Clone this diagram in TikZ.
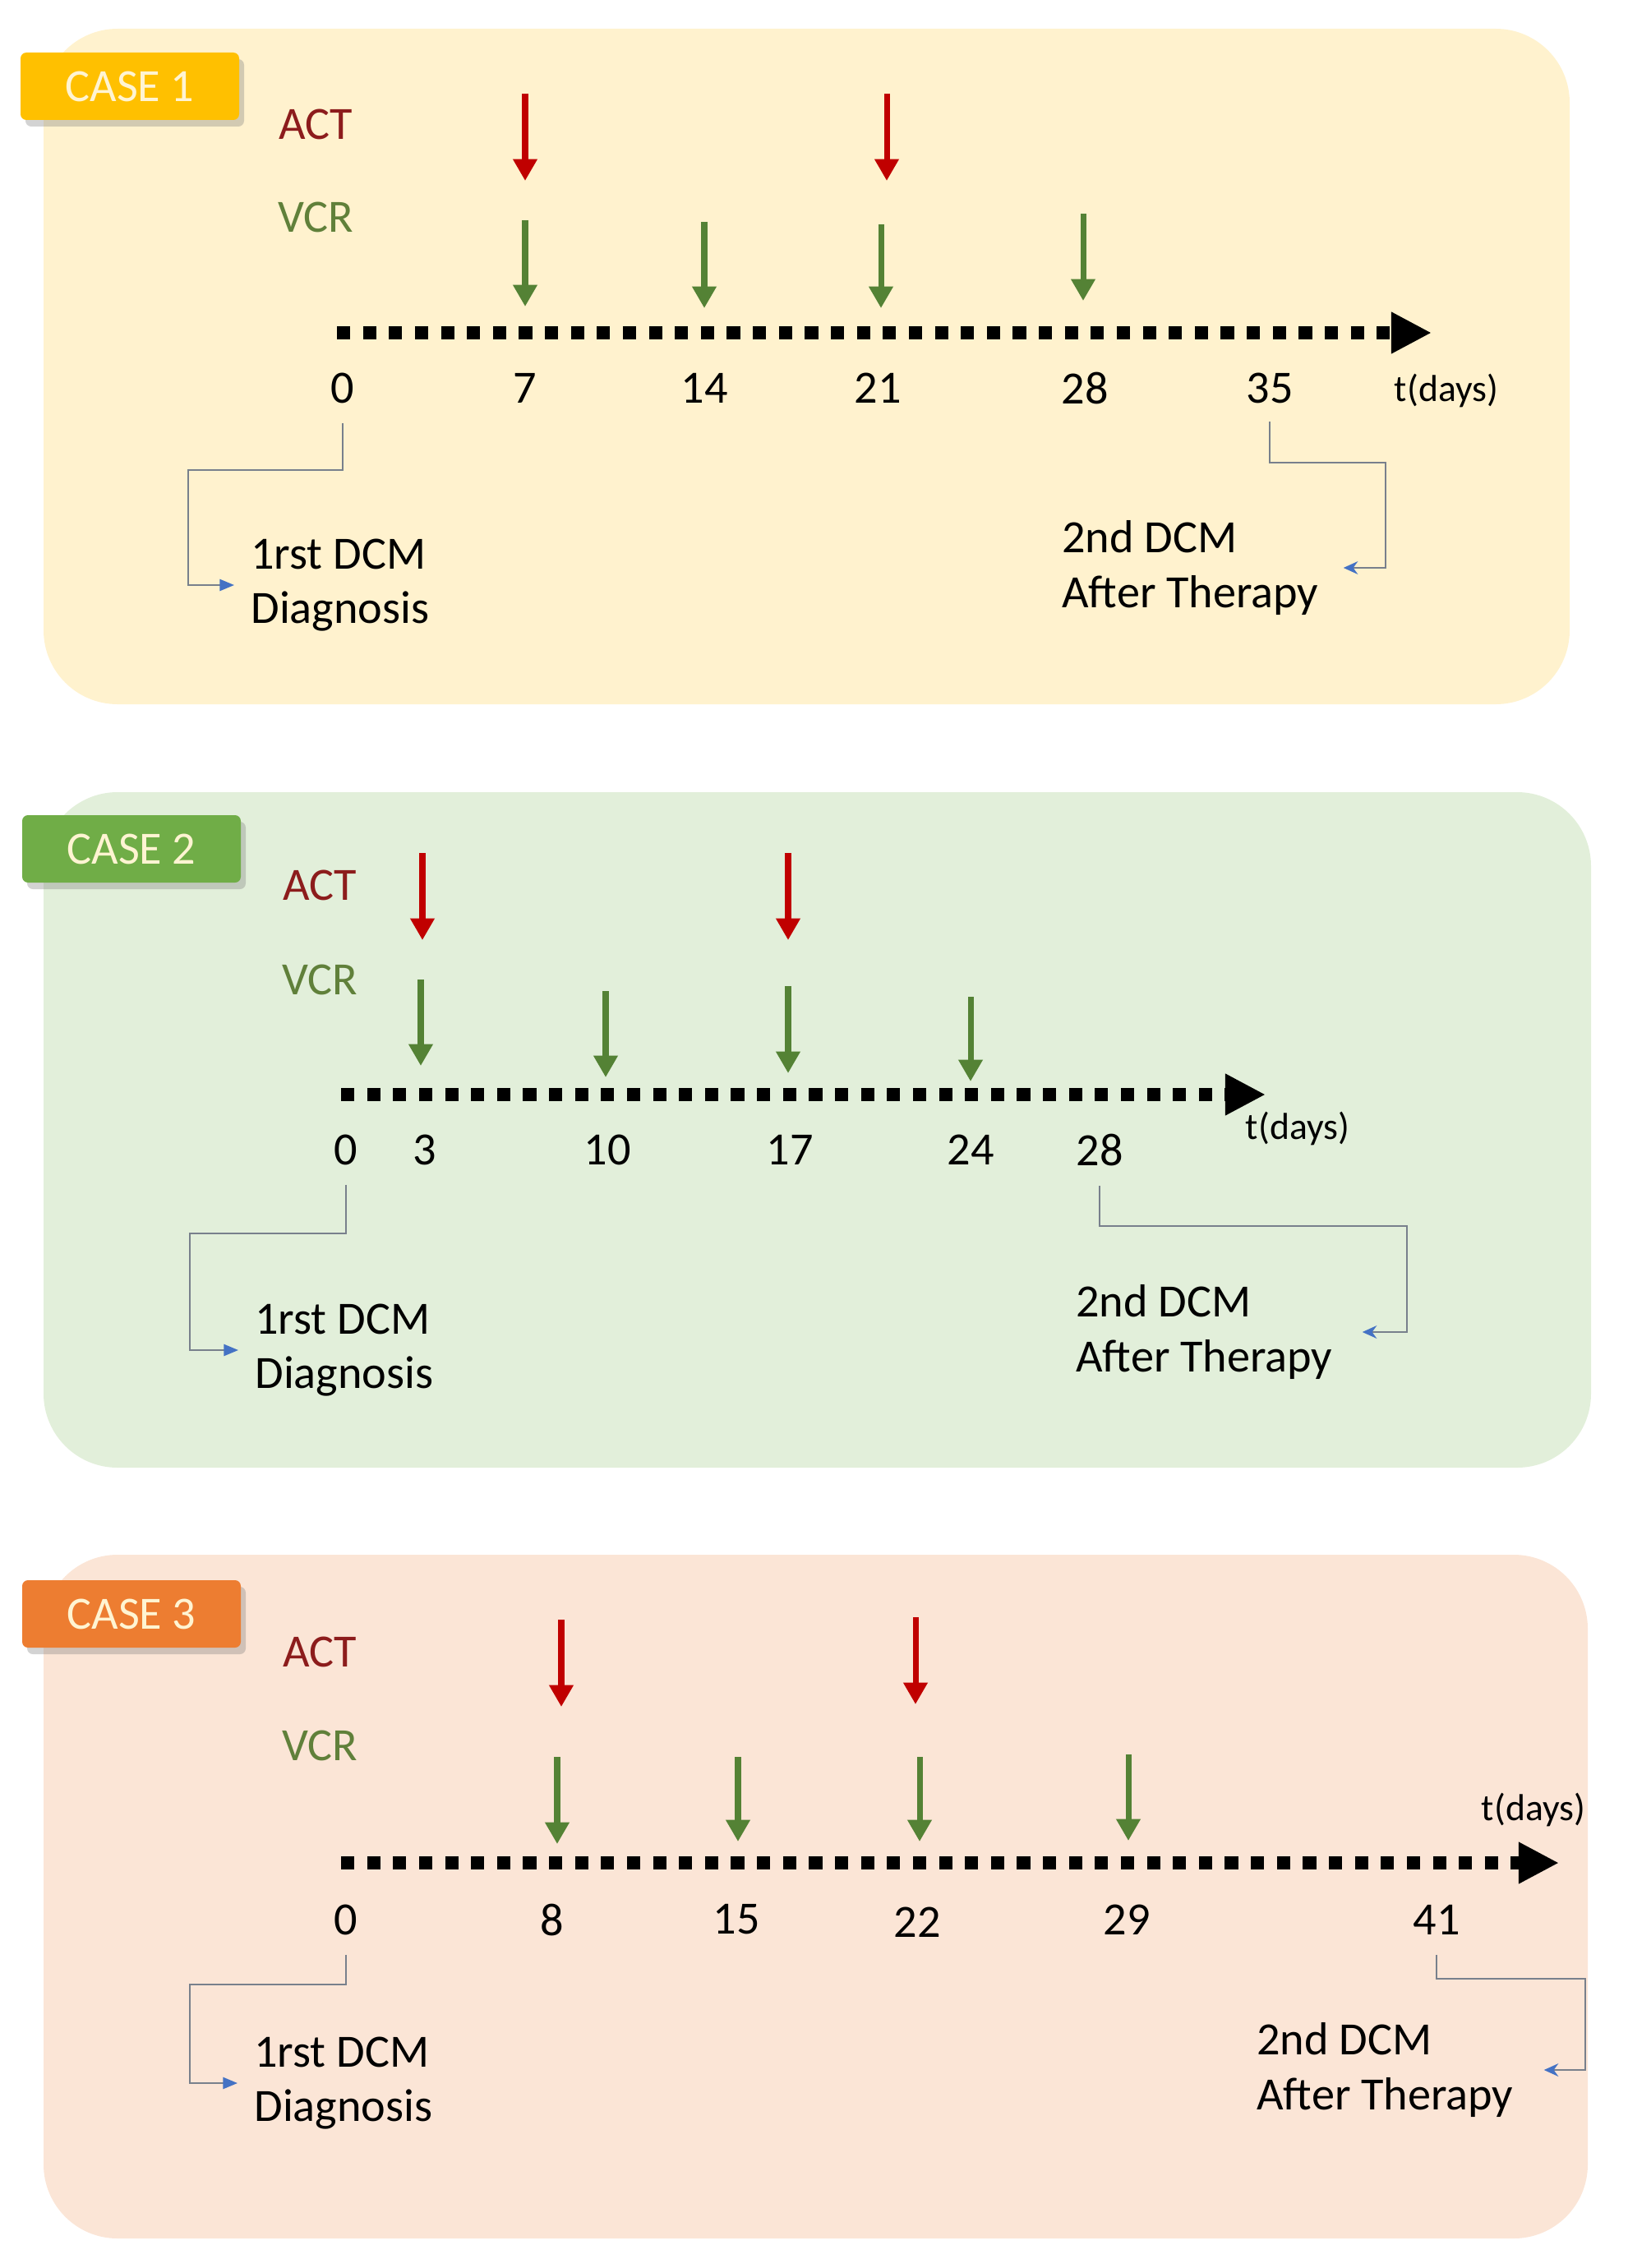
\documentclass[tikz,border=0pt]{standalone}
\usepackage{fontspec}
\setmainfont{Carlito}
\usepackage{xcolor}
\definecolor{case1_bg}{RGB}{255,242,206}
\definecolor{case2_bg}{RGB}{226,239,218}
\definecolor{case3_bg}{RGB}{251,229,214}
\definecolor{case1_tab}{RGB}{255,192,0}
\definecolor{case2_tab}{RGB}{112,173,71}
\definecolor{case3_tab}{RGB}{237,125,49}
\definecolor{tab_text}{RGB}{255,244,210}
\definecolor{act_text}{RGB}{140,28,28}
\definecolor{vcr_text}{RGB}{96,128,58}
\definecolor{act_red}{RGB}{192,0,0}
\definecolor{vcr_green}{RGB}{84,130,53}
\definecolor{link_gray}{RGB}{120,128,140}
\definecolor{link_blue}{RGB}{68,114,196}
\usepackage{tikz}
\usetikzlibrary{arrows.meta,shadows}

\tikzset{
  panel/.style={rounded corners=0.9cm},
  casetab/.style={minimum width=2.66cm, minimum height=0.82cm, rounded corners=2pt,
    text=tab_text, font=\fontsize{16}{19}\selectfont,
    drop shadow={shadow xshift=0.6mm, shadow yshift=-0.8mm, opacity=0.35}},
  drug/.style={font=\fontsize{16}{19}\selectfont},
  daylabel/.style={font=\fontsize{16}{19}\selectfont},
  dayunit/.style={font=\fontsize{13}{15}\selectfont},
  dcm/.style={align=left, anchor=west, font=\fontsize{16}{19}\selectfont},
  actarrow/.style={draw=act_red, line width=2pt, -{Triangle[length=7.5pt,width=8pt]}},
  vcrarrow/.style={draw=vcr_green, line width=2pt, -{Triangle[length=7.5pt,width=8pt]}},
  timeaxis/.style={line width=4.6pt, dash pattern=on 4.6pt off 4.4pt,
    -{Triangle[length=14pt,width=13.5pt]}},
  link/.style={draw=link_gray, line width=0.6pt},
  linkin/.style={link, -{Triangle[length=5pt,width=4pt,color=link_blue]}},
  linkout/.style={link, -{Stealth[length=5pt,width=4.5pt,color=link_blue]}}
}

\begin{document}
\begin{tikzpicture}
\useasboundingbox (0,0) rectangle (19.8,-27.6);

% CASE 1
\fill[case1_bg, panel] (0.53,-0.35) rectangle (19.10,-8.57);
\node[casetab, fill=case1_tab] (c1tab) at (1.58,-1.05) {CASE 1};
\node[drug, text=act_text] (c1act) at (3.84,-1.51) {ACT};
\node[drug, text=vcr_text] (c1vcr) at (3.84,-2.64) {VCR};

\draw[actarrow] (6.39,-1.14) -- (6.39,-2.20);
\draw[actarrow] (10.79,-1.14) -- (10.79,-2.20);
\draw[vcrarrow] (6.39,-2.68) -- (6.39,-3.73);
\draw[vcrarrow] (8.57,-2.70) -- (8.57,-3.75);
\draw[vcrarrow] (10.72,-2.73) -- (10.72,-3.75);
\draw[vcrarrow] (13.18,-2.60) -- (13.18,-3.66);

\draw[timeaxis] (4.10,-4.05) -- (17.42,-4.05);
\node[daylabel] (c1d0) at (4.17,-4.72) {0};
\node[daylabel] (c1d7) at (6.39,-4.72) {7};
\node[daylabel] (c1d14) at (8.57,-4.72) {14};
\node[daylabel] (c1d21) at (10.68,-4.72) {21};
\node[daylabel] (c1d28) at (13.20,-4.72) {28};
\node[daylabel] (c1d35) at (15.45,-4.72) {35};
\node[dayunit] (c1unit) at (17.60,-4.75) {t(days)};

\node[dcm] (c1first) at (2.93,-7.12) {1rst DCM\\Diagnosis};
\node[dcm] (c1second) at (12.80,-6.91) {2nd DCM\\After Therapy};
\coordinate (c1k1) at (2.29,-5.72);
\coordinate (c1k2) at (16.86,-5.63);
\draw[linkin, shorten >=0.8mm] ([yshift=-1.2mm]c1d0.south) |- (c1k1) |- (c1first);
\draw[linkout, shorten >=1.8mm] ([yshift=-1.0mm]c1d35.south) |- (c1k2) |- (c1second);

% CASE 2
\fill[case2_bg, panel] (0.53,-9.64) rectangle (19.36,-17.86);
\node[casetab, fill=case2_tab] (c2tab) at (1.60,-10.33) {CASE 2};
\node[drug, text=act_text] (c2act) at (3.89,-10.77) {ACT};
\node[drug, text=vcr_text] (c2vcr) at (3.89,-11.92) {VCR};

\draw[actarrow] (5.14,-10.38) -- (5.14,-11.44);
\draw[actarrow] (9.59,-10.38) -- (9.59,-11.44);
\draw[vcrarrow] (5.12,-11.92) -- (5.12,-12.97);
\draw[vcrarrow] (7.37,-12.06) -- (7.37,-13.11);
\draw[vcrarrow] (9.59,-12.00) -- (9.59,-13.06);
\draw[vcrarrow] (11.81,-12.13) -- (11.81,-13.16);

\draw[timeaxis] (4.15,-13.32) -- (15.40,-13.32);
\node[daylabel] (c2d0) at (4.21,-13.99) {0};
\node[daylabel] (c2d3) at (5.17,-13.99) {3};
\node[daylabel] (c2d10) at (7.39,-13.99) {10};
\node[daylabel] (c2d17) at (9.61,-13.99) {17};
\node[daylabel] (c2d24) at (11.81,-13.99) {24};
\node[daylabel] (c2d28) at (13.38,-13.99) {28};
\node[dayunit] (c2unit) at (15.79,-13.73) {t(days)};

\node[dcm] (c2first) at (2.98,-16.43) {1rst DCM\\Diagnosis};
\node[dcm] (c2second) at (12.97,-16.21) {2nd DCM\\After Therapy};
\coordinate (c2k1) at (2.31,-15.01);
\coordinate (c2k2) at (17.12,-14.92);
\draw[linkin, shorten >=0.8mm] ([yshift=-1.2mm]c2d0.south) |- (c2k1) |- (c2first);
\draw[linkout, shorten >=2.4mm] ([yshift=-1.2mm]c2d28.south) |- (c2k2) |- (c2second);

% CASE 3
\fill[case3_bg, panel] (0.53,-18.92) rectangle (19.32,-27.24);
\node[casetab, fill=case3_tab] (c3tab) at (1.60,-19.64) {CASE 3};
\node[drug, text=act_text] (c3act) at (3.89,-20.10) {ACT};
\node[drug, text=vcr_text] (c3vcr) at (3.89,-21.24) {VCR};

\draw[actarrow] (6.83,-19.71) -- (6.83,-20.77);
\draw[actarrow] (11.14,-19.68) -- (11.14,-20.74);
\draw[vcrarrow] (6.78,-21.38) -- (6.78,-22.44);
\draw[vcrarrow] (8.98,-21.38) -- (8.98,-22.41);
\draw[vcrarrow] (11.19,-21.38) -- (11.19,-22.41);
\draw[vcrarrow] (13.73,-21.35) -- (13.73,-22.40);

\draw[timeaxis] (4.15,-22.67) -- (18.97,-22.67);
\node[daylabel] (c3d0) at (4.21,-23.36) {0};
\node[daylabel] (c3d8) at (6.72,-23.36) {8};
\node[daylabel] (c3d15) at (8.96,-23.36) {15};
\node[daylabel] (c3d22) at (11.16,-23.39) {22};
\node[daylabel] (c3d29) at (13.71,-23.36) {29};
\node[daylabel] (c3d41) at (17.48,-23.36) {41};
\node[dayunit] (c3unit) at (18.66,-22.02) {t(days)};

\node[dcm] (c3first) at (2.97,-25.35) {1rst DCM\\Diagnosis};
\node[dcm] (c3second) at (15.17,-25.19) {2nd DCM\\After Therapy};
\coordinate (c3k1) at (2.31,-24.15);
\coordinate (c3k2) at (19.29,-24.08);
\draw[linkin, shorten >=0.8mm] ([yshift=-1.2mm]c3d0.south) |- (c3k1) |- (c3first);
\draw[linkout, shorten >=2.5mm] ([yshift=-1.2mm]c3d41.south) |- (c3k2) |- (c3second);

\end{tikzpicture}
\end{document}
